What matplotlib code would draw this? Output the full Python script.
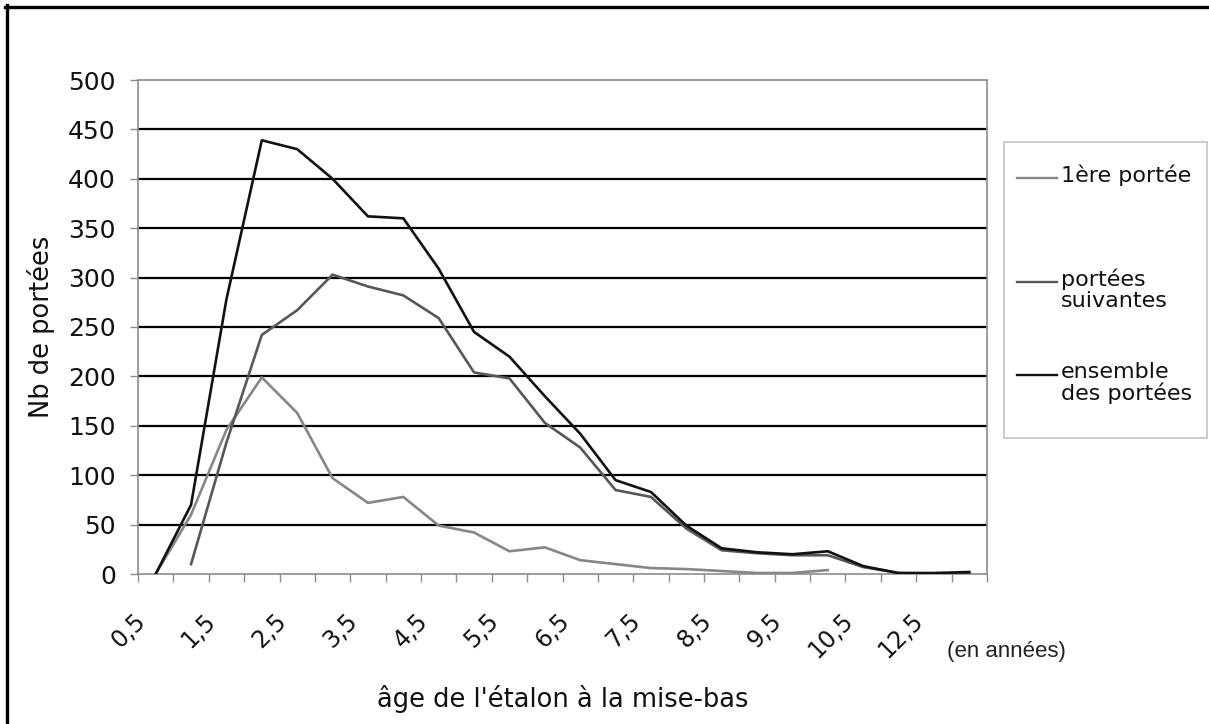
import numpy as np
import matplotlib.pyplot as plt
from matplotlib.lines import Line2D
from matplotlib.patches import Rectangle

# categories (âge de l'étalon, en années)
ages = ['0,5', '1', '1,5', '2', '2,5', '3', '3,5', '4', '4,5', '5', '5,5', '6',
        '6,5', '7', '7,5', '8', '8,5', '9', '9,5', '10', '10,5', '11', '12,5', '13']

# values
premiere = [0, 60, 146, 199, 163, 97, 72, 78, 49, 42, 23, 27, 14, 10, 6, 5, 3, 1, 1, 4]
suivantes = [None, 10, 133, 242, 267, 303, 291, 282, 259, 204, 198, 153, 128, 85,
             78, 46, 24, 21, 19, 19, 7, 1, 0, 1]
ensemble = [0, 70, 278, 439, 430, 400, 362, 360, 309, 245, 220, 180, 142, 95,
            83, 49, 26, 22, 20, 23, 8, 1, 1, 2]

series_names = ['1ère portée', 'portées\nsuivantes', 'ensemble\ndes portées']
series_colors = ['#868686', '#575757', '#111111']

W, H = 1209, 724
plt.rcParams['font.family'] = 'DejaVu Sans'

fig = plt.figure(figsize=(W / 100, H / 100), dpi=100)
fig.patch.set_facecolor('white')
ax = fig.add_axes([138 / W, 1 - 574 / H, 849 / W, 494 / H])

x = np.arange(len(ages))
data = [np.array(premiere, dtype=float),
        np.array(suivantes, dtype=float),
        np.array(ensemble, dtype=float)]
for vals, col in zip(data, series_colors):
    ax.plot(x[:len(vals)], vals, color=col, lw=1.9, zorder=3)

ax.set_xlim(-0.5, len(ages) - 0.5)
ax.set_ylim(0, 500)

# horizontal gridlines (black), axis frame in grey
yt = np.arange(0, 501, 50)
ax.set_yticks(yt)
for v in yt[1:-1]:
    ax.axhline(v, color='black', lw=1.6, zorder=1)
for s in ax.spines.values():
    s.set_color('#8c8c8c')
    s.set_linewidth(1.2)

ax.tick_params(axis='y', direction='out', length=6, width=1, color='#8c8c8c',
               labelsize=18, pad=10, labelcolor='#111111')

# tick marks between categories, labels every second category
ax.set_xticks(np.arange(-0.5, len(ages)), minor=True)
ax.set_xticks(x[::2] - 0.4)
ax.set_xticklabels(ages[::2], rotation=45, ha='right', va='center',
                   rotation_mode='anchor')
ax.tick_params(axis='x', which='minor', direction='out', length=6, width=1,
               color='#8c8c8c')
ax.tick_params(axis='x', which='major', length=0, labelsize=17, pad=31,
               labelcolor='#111111')

ax.set_ylabel('Nb de portées', fontsize=18.5, color='#111111')
ax.yaxis.set_label_coords(-0.098, 0.5)
ax.set_xlabel("âge de l'étalon à la mise-bas", fontsize=18.5, color='#111111')
ax.xaxis.set_label_coords(0.5, -0.225)

fig.text(947 / W, 1 - 651 / H, '(en années)', fontsize=16, va='center',
         family='Liberation Sans', color='#222222')

# legend box drawn by hand so that the line sits on the first text line
fig.add_artist(Rectangle((1004 / W, 1 - 438 / H), 203 / W, 296 / H,
                         transform=fig.transFigure, fill=False,
                         edgecolor='#c4c4c4', lw=1.2))
for name, col, ypx in zip(series_names, series_colors, [178, 282, 375]):
    fig.add_artist(Line2D([1017 / W, 1057 / W], [1 - ypx / H] * 2,
                          transform=fig.transFigure, color=col, lw=1.7))
    fig.text(1061 / W, 1 - (ypx - 13) / H, name, fontsize=16, va='top',
             linespacing=1.05, color='#111111')

# outer frame (top and left edges)
fig.add_artist(Line2D([5 / W, 1], [1 - 6.5 / H] * 2, transform=fig.transFigure,
                      color='black', lw=2.4))
fig.add_artist(Line2D([6.5 / W] * 2, [0, 1 - 5 / H], transform=fig.transFigure,
                      color='black', lw=2.4))

fig.savefig('out.png', dpi=100)
